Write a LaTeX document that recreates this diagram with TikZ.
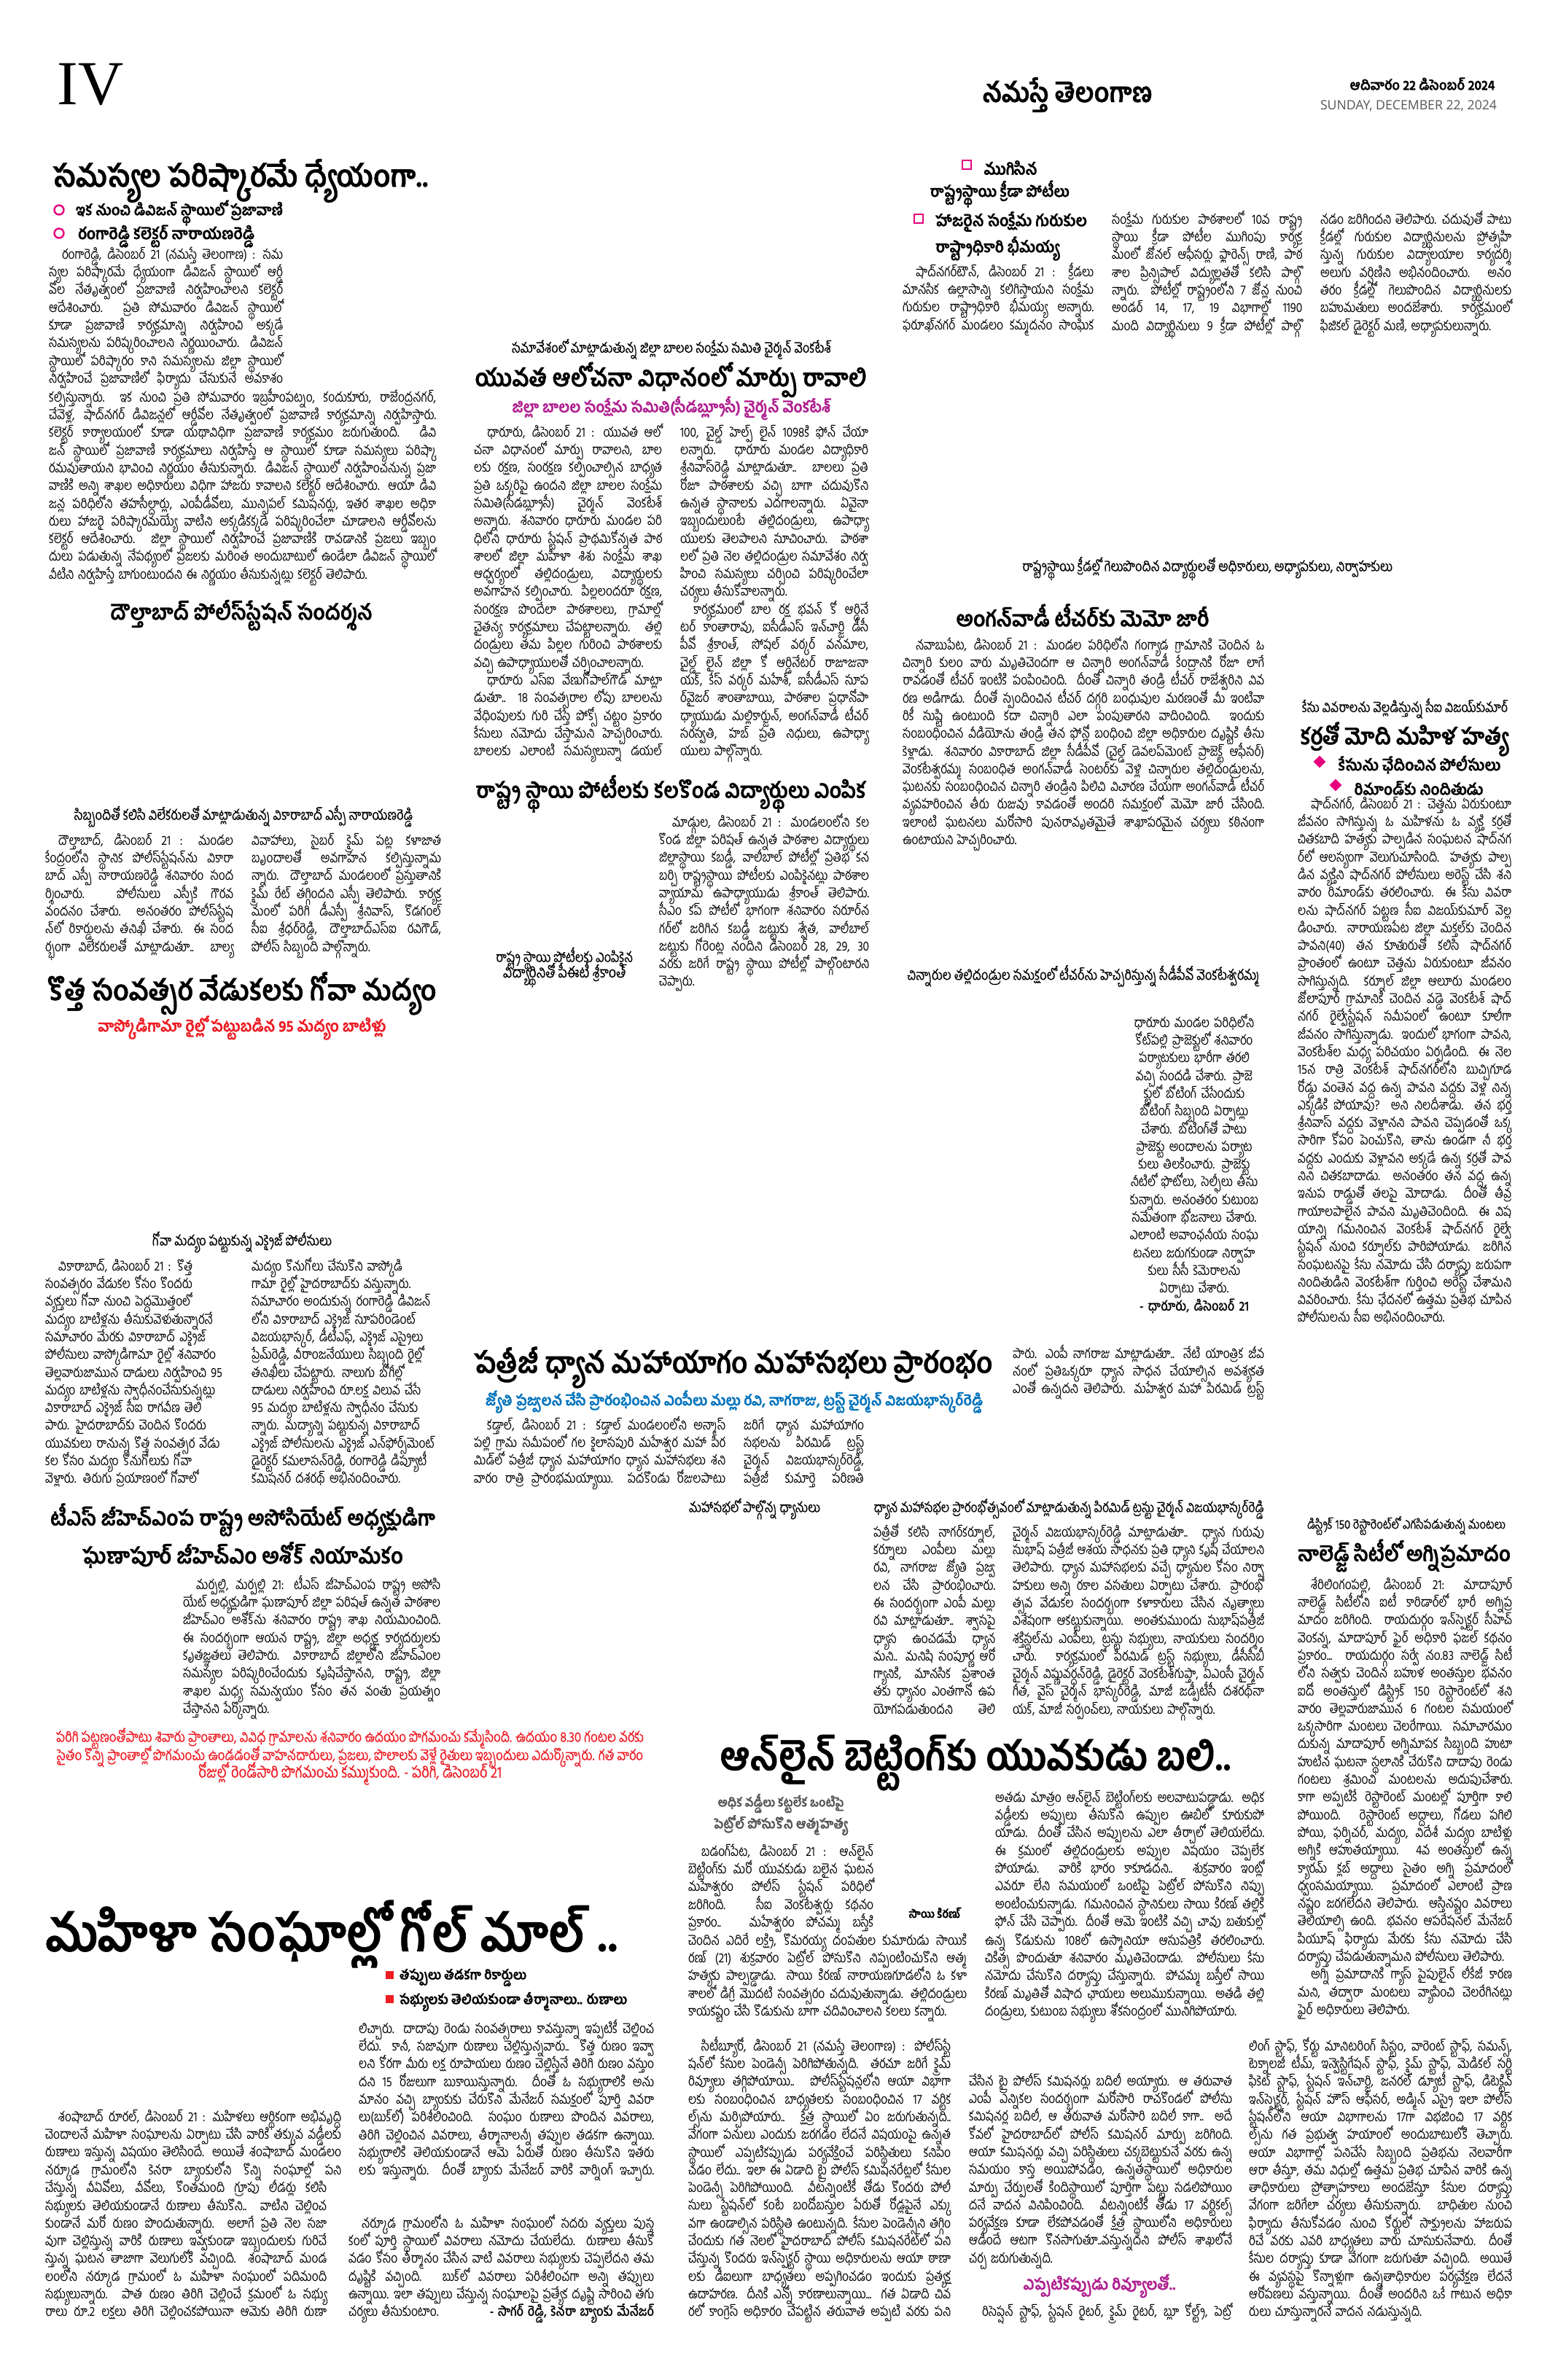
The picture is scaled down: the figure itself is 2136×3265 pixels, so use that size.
\documentclass[tikz,border=0pt]{standalone}
\usepackage{fontspec}
\usepackage{graphicx}
\usetikzlibrary{shapes.geometric}
\setmainfont{Hind Guntur}[Script=Telugu]
\newfontfamily\textcond{Hind Guntur}[Script=Telugu, FakeStretch=0.84]
\newfontfamily\capfont{Hind Guntur}[Script=Telugu, FakeStretch=0.84, FakeBold=0.15]
\newfontfamily\headfont{Hind Guntur}[Script=Telugu, FakeStretch=0.92, BoldFeatures={FakeBold=1}]
\newfontfamily\pagefont{Liberation Serif}
\newfontfamily\dayfont{Open Sans}
\definecolor{pinkmark}{HTML}{E6007E}
\definecolor{purplehead}{HTML}{B0208F}
\definecolor{bluehead}{HTML}{0072BC}
\definecolor{redhead}{HTML}{ED1C24}
\definecolor{grayhead}{HTML}{555555}
\newcommand{\bodysize}{\textcond\fontsize{18.5}{24.3}\selectfont\lineskiplimit=-100pt\lineskip=0pt\spaceskip=.3em plus 6em minus .28em\tolerance=10000\hbadness=10000\hfuzz=40pt\linepenalty=9000}
\newcommand{\brk}{\linebreak}
\newcommand{\ind}{\hspace*{18pt}}
\newcommand{\fitw}[2]{\resizebox{#1pt}{!}{#2}}

\begin{document}
\begin{tikzpicture}[x=1pt, y=-1pt,
    bodytext/.style={text width=#1 pt,
      anchor=north west,
      align=justify,
      inner sep=0pt,
      yshift=17pt,
      font=\bodysize,
      execute at begin node={\rule{0pt}{24pt}}},
    plaintext/.style={bodytext=#1, align=left},
    centertext/.style={bodytext=#1, anchor=north, align=center},
    headline/.style={inner sep=0pt, yshift=-4pt, font=\headfont\bfseries\fontsize{30}{36}\selectfont},
    captionline/.style={inner sep=0pt, font=\capfont\fontsize{20}{24}\selectfont},
    ringmark/.style={circle, draw=pinkmark, fill=white, line width=2.4pt, minimum size=13pt, inner sep=0pt},
    boxmark/.style={rectangle, draw=pinkmark, fill=white, line width=2.2pt, minimum size=12pt, inner sep=0pt},
    diamondmark/.style={diamond, fill=pinkmark, minimum size=17pt, inner sep=0pt},
    redmark/.style={rectangle, fill=redhead, minimum size=11pt, inner sep=0pt}]
  \useasboundingbox (0,0) rectangle (2136,3265);

% PAGE HEADER

  \node [inner sep=0pt, font=\pagefont\fontsize{86}{86}\selectfont] (pageno) at (124,116) {IV};
  \node [headline] (paper) at (1464,126) {\fitw{233}{నమస్తే తెలంగాణ}};
  \node [headline] (dateline) at (1951,111) {\fitw{199}{ఆదివారం 22 డిసెంబర్ 2024}};
  \node [inner sep=0pt, text=grayhead, font=\dayfont\fontsize{20}{24}\selectfont] (dayline) at (1932,145) {\fitw{242}{SUNDAY, DECEMBER 22, 2024}};

% PRAJAVANI

  \node [headline] (samasya) at (330,244) {\fitw{515}{సమస్యల పరిష్కారమే ధ్యేయంగా..}};
  \node [ringmark] (ringa) at (81,288) {};
  \node [headline] (ringatext) at (246,288) {\fitw{284}{ఇక నుంచి డివిజన్ స్థాయిలో ప్రజావాణి}};
  \node [ringmark] (ringb) at (81,320) {};
  \node [headline] (ringbtext) at (228,320) {\fitw{242}{రంగారెడ్డి కలెక్టర్ నారాయణరెడ్డి}};

  \node [bodytext=321] (samasyaa) at (67,348) {\ind రంగారెడ్డి, డిసెంబర్ 21 (నమస్తే తెలంగాణ) : సమ\brk
    స్యల పరిష్కారమే ధ్యేయంగా డివిజన్ స్థాయిలో ఆర్డీ\brk
    వోల నేతృత్వంలో ప్రజావాణి నిర్వహించాలని కలెక్టర్\brk
    ఆదేశించారు. ప్రతి సోమవారం డివిజన్ స్థాయిలో\brk
    కూడా ప్రజావాణి కార్యక్రమాన్ని నిర్వహించి అక్కడే\brk
    సమస్యలను పరిష్కరించాలని నిర్ణయించారు. డివిజన్\brk
    స్థాయిలో పరిష్కారం కాని సమస్యలను జిల్లా స్థాయిలో\brk
    నిర్వహించే ప్రజావాణిలో ఫిర్యాదు చేసుకునే అవకాశం\brk};
  \node [bodytext=531] (samasyab) at (67,544) {కల్పిస్తున్నారు. ఇక నుంచి ప్రతి సోమవారం ఇబ్రహీంపట్నం, కందుకూరు, రాజేంద్రనగర్,\brk
    చేవెళ్ల, షాద్‌నగర్ డివిజన్లలో ఆర్డీవోల నేతృత్వంలో ప్రజావాణి కార్యక్రమాన్ని నిర్వహిస్తారు.\brk
    కలెక్టర్ కార్యాలయంలో కూడా యథావిధిగా ప్రజావాణి కార్యక్రమం జరుగుతుంది. డివి\brk
    జన్ స్థాయిలో ప్రజావాణి కార్యక్రమాలు నిర్వహిస్తే ఆ స్థాయిలో కూడా సమస్యలు పరిష్కా\brk
    రమవుతాయని భావించి నిర్ణయం తీసుకున్నారు. డివిజన్ స్థాయిలో నిర్వహించనున్న ప్రజా\brk
    వాణికి అన్ని శాఖల అధికారులు విధిగా హాజరు కావాలని కలెక్టర్ ఆదేశించారు. ఆయా డివి\brk
    జన్ల పరిధిలోని తహసీల్దార్లు, ఎంపీడీవోలు, మున్సిపల్ కమిషనర్లు, ఇతర శాఖల అధికా\brk
    రులు హాజరై పరిష్కారమయ్యే వాటిని అక్కడికక్కడే పరిష్కరించేలా చూడాలని ఆర్డీవోలను\brk
    కలెక్టర్ ఆదేశించారు. జిల్లా స్థాయిలో నిర్వహించే ప్రజావాణికి రావడానికి ప్రజలు ఇబ్బం\brk
    దులు పడుతున్న నేపథ్యంలో ప్రజలకు మరింత అందుబాటులో ఉండేలా డివిజన్ స్థాయిలో\brk
    వీటిని నిర్వహిస్తే బాగుంటుందని ఈ నిర్ణయం తీసుకున్నట్లు కలెక్టర్ తెలిపారు.};

% DAULATABAD POLICE

  \node [headline] (daulat) at (331,840) {\fitw{359}{దౌల్తాబాద్ పోలీస్‌స్టేషన్ సందర్శన}};
  \node [captionline] (daulatcap) at (334,1120) {\fitw{464}{సిబ్బందితో కలిసి విలేకరులతో మాట్లాడుతున్న వికారాబాద్ ఎస్పీ నారాయణరెడ్డి}};
  \node [bodytext=258] (daulata) at (62,1152) {\ind దౌల్తాబాద్, డిసెంబర్ 21 : మండల\brk
    కేంద్రంలోని స్థానిక పోలీస్‌స్టేషన్‌ను వికారా\brk
    బాద్ ఎస్పీ నారాయణరెడ్డి శనివారం సంద\brk
    ర్శించారు. పోలీసులు ఎస్పీకి గౌరవ\brk
    వందనం చేశారు. అనంతరం పోలీస్‌స్టేష\brk
    న్‌లో రికార్డులను తనిఖీ చేశారు. ఈ సంద\brk
    ర్భంగా విలేకరులతో మాట్లాడుతూ.. బాల్య\brk};
  \node [bodytext=260] (daulatb) at (345,1152) {వివాహాలు, సైబర్ క్రైమ్ పట్ల కళాజాత\brk
    బృందాలతో అవగాహన కల్పిస్తున్నామ\brk
    న్నారు. దౌల్తాబాద్ మండలంలో ప్రస్తుతానికి\brk
    క్రైమ్ రేట్ తగ్గిందని ఎస్పీ తెలిపారు. కార్యక్ర\brk
    మంలో పరిగి డీఎస్పీ శ్రీనివాస్, కొడగంల్\brk
    సీఐ శ్రీధర్‌రెడ్డి, దౌల్తాబాద్‌ఎస్‌ఐ రవిగౌడ్,\brk
    పోలీస్ సిబ్బంది పాల్గొన్నారు.};

% GOA LIQUOR

  \node [headline] (goa) at (332,1359) {\fitw{533}{కొత్త సంవత్సర వేడుకలకు గోవా మద్యం}};
  \node [headline, text=redhead] (goasub) at (332,1406) {\fitw{395}{వాస్కోడిగామా రైల్లో పట్టుబడిన 95 మద్యం బాటిళ్లు}};
  \node [captionline] (goacap) at (332,1704) {\fitw{246}{గోవా మద్యం పట్టుకున్న ఎక్సైజ్ పోలీసులు}};
  \node [plaintext=272] (goaa) at (62,1736) {\ind వికారాబాద్, డిసెంబర్ 21 : కొత్త\\
    సంవత్సరం వేడుకల కోసం కొందరు\\
    వ్యక్తులు గోవా నుంచి పెద్దమొత్తంలో\\
    మద్యం బాటిళ్లను తీసుకువెళుతున్నారనే\\
    సమాచారం మేరకు వికారాబాద్ ఎక్సైజ్\\
    పోలీసులు వాస్కోడిగామా రైల్లో శనివారం\\
    తెల్లవారుజామున దాడులు నిర్వహించి 95\\
    మద్యం బాటిళ్లను స్వాధీనంచేసుకున్నట్లు\\
    వికారాబాద్ ఎక్సైజ్ సీఐ రాగవీణ తెలి\\
    పారు. హైదరాబాద్‌కు చెందిన కొందరు\\
    యువకులు రానున్న కొత్త సంవత్సర వేడు\\
    కల కోసం మద్యం కొనుగోలుకు గోవా\\
    వెళ్లారు. తిరుగు ప్రయాణంలో గోవాలో};
  \node [plaintext=272] (goab) at (345,1736) {మద్యం కొనుగోలు చేసుకొని వాస్కోడి\\
    గామా రైల్లో హైదరాబాద్‌కు వస్తున్నారు.\\
    సమాచారం అందుకున్న రంగారెడ్డి డివిజన్\\
    లోని వికారాబాద్ ఎక్సైజ్ సూపరిండెంట్\\
    విజయభాస్కర్, డీటీఎఫ్, ఎక్సైజ్ ఎస్సైలు\\
    ప్రేమ్‌రెడ్డి, వీరాంజనేయులు సిబ్బంది రైల్లో\\
    తనిఖీలు చేపట్టారు. నాలుగు బోగీల్లో\\
    దాడులు నిర్వహించి రూ.లక్ష విలువ చేసే\\
    95 మద్యం బాటిళ్లను స్వాధీనం చేసుకు\\
    న్నారు. మద్యాన్ని పట్టుకున్న వికారాబాద్\\
    ఎక్సైజ్ పోలీసులను ఎక్సైజ్ ఎన్‌ఫోర్స్‌మెంట్\\
    డైరెక్టర్ కమలాసన్‌రెడ్డి, రంగారెడ్డి డిప్యూటీ\\
    కమిషనర్ దశరథ్ అభినందించారు.};

% GHM ASSOCIATE

  \node [headline] (ghma) at (333,2081) {\fitw{528}{టీఎస్ జీహెచ్‌ఎంప రాష్ట్ర అసోసియేట్ అధ్యక్షుడిగా}};
  \node [headline] (ghmb) at (333,2129) {\fitw{440}{ఘణాపూర్ జీహెచ్‌ఎం అశోక్ నియామకం}};
  \node [bodytext=353] (ghmtext) at (251,2173) {\ind మర్పల్లి, మర్పల్లి 21: టీఎస్ జీహెచ్‌ఎంప రాష్ట్ర అసోసి\brk
    యేట్ అధ్యక్షుడిగా ఘణాపూర్ జిల్లా పరిషత్ ఉన్నత పాఠశాల\brk
    జీహెచ్‌ఎం అశోక్‌ను శనివారం రాష్ట్ర శాఖ నియమించింది.\brk
    ఈ సందర్భంగా ఆయన రాష్ట్ర, జిల్లా అధ్యక్ష కార్యదర్శులకు\brk
    కృతజ్ఞతలు తెలిపారు. వికారాబాద్ జిల్లాలోని జీహెచ్‌ఎంల\brk
    సమస్యల పరిష్కరించేందుకు కృషిచేస్తానని, రాష్ట్ర, జిల్లా\brk
    శాఖల మధ్య సమన్వయం కోసం తన వంతు ప్రయత్నం\brk
    చేస్తానని పేర్కొన్నారు.};

% FOG NOTE

  \node [captionline, text=redhead] (foga) at (480,2385) {\fitw{806}{పరిగి పట్టణంతోపాటు శివారు ప్రాంతాలు, వివిధ గ్రామాలను శనివారం ఉదయం పొగమంచు కమ్మేసింది. ఉదయం 8.30 గంటల వరకు}};
  \node [captionline, text=redhead] (fogb) at (480,2410) {\fitw{804}{సైతం కొన్ని ప్రాంతాల్లో పొగమంచు ఉండడంతో వాహనదారులు, ప్రజలు, పొలాలకు వెళ్లే రైతులు ఇబ్బందులు ఎదుర్కొన్నారు. గత వారం}};
  \node [captionline, text=redhead] (fogc) at (480,2433) {\fitw{416}{రోజుల్లో రెండోసారి పొగమంచు కమ్ముకుంది. - పరిగి, డిసెంబర్ 21}};

% WOMEN GROUPS

  \node [headline] (golmal) at (455,2649) {\fitw{785}{మహిళా సంఘాల్లో గోల్ మాల్ ..}};
  \node [redmark] (reda) at (534,2709) {};
  \node [headline] (redatext) at (635,2709) {\fitw{174}{తప్పులు తడకగా రికార్డులు}};
  \node [redmark] (redb) at (534,2742) {};
  \node [headline] (redbtext) at (704,2742) {\fitw{312}{సభ్యులకు తెలియకుండా తీర్మానాలు.. రుణాలు}};

  \node [bodytext=405] (golmalc) at (492,2782) {లిచ్చారు. దాదాపు రెండు సంవత్సరాలు కావస్తున్నా ఇప్పటికీ చెల్లించ\brk
    లేదు. కానీ, సజావుగా రుణాలు చెల్లిస్తున్నవారు.. కొత్త రుణం ఇవ్వా\brk
    లని కోరగా మీరు లక్ష రూపాయలు రుణం చెల్లిస్తేనే తిరిగి రుణం వస్తుం\brk
    దని 15 రోజులుగా బుకాయిస్తున్నారు. దీంతో ఓ సభ్యురాలికి అను\brk
    మానం వచ్చి బ్యాంకుకు చేరుకొని మేనేజర్ సమక్షంలో పూర్తి వివరా\brk
    లు(బుక్‌లో) పరిశీలించింది. సంఘం రుణాలు పొందిన వివరాలు,\brk
    తిరిగి చెల్లించిన వివరాలు, తీర్మానాలన్నీ తప్పుల తడకగా ఉన్నాయి.\brk
    సభ్యురాలికి తెలియకుండానే ఆమె పేరుతో రుణం తీసుకొని ఇతరు\brk
    లకు ఇస్తున్నారు. దీంతో బ్యాంకు మేనేజర్ వారికి వార్నింగ్ ఇచ్చారు.\brk};
  \node [bodytext=406] (golmala) at (62,2903) {\ind శంషాబాద్ రూరల్, డిసెంబర్ 21 : మహిళలు ఆర్థికంగా అభివృద్ధి\brk
    చెందాలనే మహిళా సంఘాలను ఏర్పాటు చేసి వారికి తక్కువ వడ్డీలకు\brk
    రుణాలు ఇస్తున్న విషయం తెలిసిందే. అయితే శంషాబాద్ మండలం\brk
    నర్కూడ గ్రామంలోని కెనరా బ్యాంకులోని కొన్ని సంఘాల్లో పని\brk};
  \node [bodytext=386] (golmalb) at (62,3000.5) {చేస్తున్న వీఏవోలు, వీవోలు, కొంతమంది గ్రూపు లీడర్లు కలిసి\brk
    సభ్యులకు తెలియకుండానే రుణాలు తీసుకొని.. వాటిని చెల్లించ\brk
    కుండానే మరో రుణం పొందుతున్నారు. అలాగే ప్రతి నెల సజా\brk
    వుగా చెల్లిస్తున్న వారికి రుణాలు ఇవ్వకుండా ఇబ్బందులకు గురిచే\brk
    స్తున్న ఘటన తాజాగా వెలుగులోకి వచ్చింది. శంషాబాద్ మండ\brk
    లంలోని నర్కూడ గ్రామంలో ఓ మహిళా సంఘంలో పదిమంది\brk
    సభ్యులున్నారు. పాత రుణం తిరిగి చెల్లించే క్రమంలో ఓ సభ్యు\brk
    రాలు రూ.2 లక్షలు తిరిగి చెల్లించకపోయినా ఆమెకు తిరిగి రుణా\brk};
  \node [bodytext=419] (golmald) at (478,3049) {\ind నర్కూడ గ్రామంలోని ఓ మహిళా సంఘంలో సదరు వ్యక్తులు పుస్త\brk
    కంలో పూర్తి స్థాయిలో వివరాలు నమోదు చేయలేదు. రుణాలు తీసుకో\brk
    వడం కోసం తీర్మానం చేసిన వాటి వివరాలు సభ్యులకు చెప్పలేదని తమ\brk
    దృష్టికి వచ్చింది. బుక్‌లో వివరాలు పరిశీలించగా అన్ని తప్పులు\brk
    ఉన్నాయి. ఇలా తప్పులు చేస్తున్న సంఘాలపై ప్రత్యేక దృష్టి సారించి తగు\brk
    చర్యలు తీసుకుంటాం. \hfill{\bfseries - సాగర్ రెడ్డి, కెనరా బ్యాంకు మేనేజర్}};

% YOUTH WELFARE

  \node [captionline] (yuvacap) at (921,479) {\fitw{438}{సమావేశంలో మాట్లాడుతున్న జిల్లా బాలల సంక్షేమ సమితి చైర్మన్ వెంకటేశ్}};
  \node [headline] (yuva) at (920,517) {\fitw{537}{యువత ఆలోచనా విధానంలో మార్పు రావాలి}};
  \node [headline, text=purplehead] (yuvasub) at (921,556) {\fitw{437}{జిల్లా బాలల సంక్షేమ సమితి(సీడబ్ల్యూసీ) చైర్మన్ వెంకటేశ్}};
  \node [bodytext=258] (yuvaa) at (650,592) {\ind ధారూరు, డిసెంబర్ 21 : యువత ఆలో\brk
    చనా విధానంలో మార్పు రావాలని, బాల\brk
    లకు రక్షణ, సంరక్షణ కల్పించాల్సిన బాధ్యత\brk
    ప్రతి ఒక్కరిపై ఉందని జిల్లా బాలల సంక్షేమ\brk
    సమితి(సీడబ్ల్యూసీ) చైర్మన్ వెంకటేశ్\brk
    అన్నారు. శనివారం ధారూరు మండల పరి\brk
    ధిలోని ధారూరు స్టేషన్ ప్రాథమికోన్నత పాఠ\brk
    శాలలో జిల్లా మహిళా శిశు సంక్షేమ శాఖ\brk
    ఆధ్వర్యంలో తల్లిదండ్రులు, విద్యార్థులకు\brk
    అవగాహన కల్పించారు. పిల్లలందరూ రక్షణ,\brk
    సంరక్షణ పొందేలా పాఠశాలలు, గ్రామాల్లో\brk
    చైతన్య కార్యక్రమాలు చేపట్టాలన్నారు. తల్లి\brk
    దండ్రులు తమ పిల్లల గురించి పాఠశాలకు\brk
    వచ్చి ఉపాధ్యాయులతో చర్చించాలన్నారు.\par
    \ind ధారూరు ఎస్‌ఐ వేణుగోపాల్‌గౌడ్ మాట్లా\brk
    డుతూ.. 18 సంవత్సరాల లోపు బాలలను\brk
    వేధింపులకు గురి చేస్తే పోక్సో చట్టం ప్రకారం\brk
    కేసులు నమోదు చేస్తామని హెచ్చరించారు.\brk
    బాలలకు ఎలాంటి సమస్యలున్నా డయల్\brk};
  \node [bodytext=258] (yuvab) at (933,592) {100, చైల్డ్ హెల్ప్ లైన్ 1098కి ఫోన్ చేయా\brk
    లన్నారు. ధారూరు మండల విద్యాధికారి\brk
    శ్రీనివాస్‌రెడ్డి మాట్లాడుతూ.. బాలలు ప్రతి\brk
    రోజూ పాఠశాలకు వచ్చి బాగా చదువుకొని\brk
    ఉన్నత స్థానాలకు ఎదగాలన్నారు. ఏవైనా\brk
    ఇబ్బందులుంటే తల్లిదండ్రులు, ఉపాధ్యా\brk
    యులకు తెలపాలని సూచించారు. పాఠశా\brk
    లలో ప్రతి నెల తల్లిదండ్రుల సమావేశం నిర్వ\brk
    హించి సమస్యలు చర్చించి పరిష్కరించేలా\brk
    చర్యలు తీసుకోవాలన్నారు.\par
    \ind కార్యక్రమంలో బాల రక్ష భవన్ కో ఆర్డినే\brk
    టర్ కాంతారావు, ఐసీడీఎస్ ఇన్‌చార్జి డీసీ\brk
    పీవో శ్రీకాంత్, సోషల్ వర్కర్ వనమాల,\brk
    చైల్డ్ లైన్ జిల్లా కో ఆర్డినేటర్ రాజూజునా\brk
    యక్, కేస్ వర్కర్ మహేశ్, ఐసీడీఎస్ సూప\brk
    ర్‌వైజర్ శాంతాబాయి, పాఠశాల ప్రధానోపా\brk
    ధ్యాయుడు మల్లికార్జున్, అంగన్‌వాడీ టీచర్\brk
    సరస్వతి, హబ్ ప్రతి నిధులు, ఉపాధ్యా\brk
    యులు పాల్గొన్నారు.};

% KALAKONDA STUDENTS

  \node [headline] (kala) at (920,1085) {\fitw{535}{రాష్ట్ర స్థాయి పోటీలకు కలకొండ విద్యార్థులు ఎంపిక}};
  \node [captionline] (kalacapa) at (774,1316) {\fitw{188}{రాష్ట్ర స్థాయి పోటీలకు ఎంపికైన}};
  \node [captionline] (kalacapb) at (774,1337) {\fitw{168}{విద్యార్థినితో పీఈటీ శ్రీకాంత్}};
  \node [bodytext=288] (kalatext) at (904,1127) {\ind మాడ్గుల, డిసెంబర్ 21 : మండలంలోని కల\brk
    కొండ జిల్లా పరిషత్ ఉన్నత పాఠశాల విద్యార్థులు\brk
    జిల్లాస్థాయి కబడ్డీ, వాలీబాల్ పోటీల్లో ప్రతిభ కన\brk
    బర్చి రాష్ట్రస్థాయి పోటీలకు ఎంపికైనట్లు పాఠశాల\brk
    వ్యాయామ ఉపాధ్యాయుడు శ్రీకాంత్ తెలిపారు.\brk
    సీఎం కప్ పోటీలో భాగంగా శనివారం సరూర్‌న\brk
    గర్‌లో జరిగిన కబడ్డీ జట్టుకు శ్వేత, వాలీబాల్\brk
    జట్టుకు గోరెంట్ల నందిని డిసెంబర్ 28, 29, 30\brk
    వరకు జరిగే రాష్ట్ర స్థాయి పోటీల్లో పాల్గొంటారని\brk
    చెప్పారు.};

% GURUKUL SPORTS

  \node [boxmark] (boxa) at (1326,226) {};
  \node [headline] (boxatext) at (1386,226) {\fitw{73}{ముగిసిన}};
  \node [headline] (sportsb) at (1371,262) {\fitw{191}{రాష్ట్రస్థాయి క్రీడా పోటీలు}};
  \node [boxmark] (boxb) at (1260,300) {};
  \node [headline] (boxbtext) at (1387,300) {\fitw{208}{హాజరైన సంక్షేమ గురుకుల}};
  \node [headline] (sportsd) at (1368,337) {\fitw{170}{రాష్ట్రాధికారి భీమయ్య}};
  \node [bodytext=262] (sportsa) at (1238,372) {\ind షాద్‌నగర్‌టౌన్, డిసెంబర్ 21 : క్రీడలు\brk
    మానసిక ఉల్లాసాన్ని కలిగిస్తాయని సంక్షేమ\brk
    గురుకుల రాష్ట్రాధికారి భీమయ్య అన్నారు.\brk
    ఫరూఖ్‌నగర్ మండలం కమ్మదనం సాంఘిక\brk};
  \node [bodytext=261] (sportsm) at (1525,300) {సంక్షేమ గురుకుల పాఠశాలలో 10వ రాష్ట్ర\brk
    స్థాయి క్రీడా పోటీల ముగింపు కార్యక్ర\brk
    మంలో జోనల్ ఆఫీసర్లు ఫ్లారెన్స్ రాణి, పాఠ\brk
    శాల ప్రిన్సిపాల్ విద్యుల్లతతో కలిసి పాల్గొ\brk
    న్నారు. పోటీల్లో రాష్ట్రంలోని 7 జోన్ల నుంచి\brk
    అండర్ 14, 17, 19 విభాగాల్లో 1190\brk
    మంది విద్యార్థినులు 9 క్రీడా పోటీల్లో పాల్గొ\brk};
  \node [bodytext=262] (sportsr) at (1811,300) {నడం జరిగిందని తెలిపారు. చదువుతో పాటు\brk
    క్రీడల్లో గురుకుల విద్యార్థినులను ప్రోత్సహి\brk
    స్తున్న గురుకుల విద్యాలయాల కార్యదర్శి\brk
    అలుగు వర్షిణిని అభినందించారు. అనం\brk
    తరం క్రీడల్లో గెలుపొందిన విద్యార్థినులకు\brk
    బహుమతులు అందజేశారు. కార్యక్రమంలో\brk
    ఫిజికల్ డైరెక్టర్ మణి, అధ్యాపకులున్నారు.};
  \node [captionline] (sportscap) at (1656,780) {\fitw{508}{రాష్ట్రస్థాయి క్రీడల్లో గెలుపొందిన విద్యార్థులతో అధికారులు, అధ్యాపకులు, నిర్వాహకులు}};

% ANGANWADI MEMO

  \node [headline] (memo) at (1485,840) {\fitw{347}{అంగన్‌వాడీ టీచర్‌కు మెమో జారీ}};
  \node [bodytext=496] (memotext) at (1238,884) {\ind నవాబుపేట, డిసెంబర్ 21 : మండల పరిధిలోని గంగ్యాడ గ్రామానికి చెందిన ఓ\brk
    చిన్నారి కులం వారు మృతిచెందగా ఆ చిన్నారి అంగన్‌వాడీ కేంద్రానికి రోజూ లాగే\brk
    రావడంతో టీచర్ ఇంటికి పంపించింది. దీంతో చిన్నారి తండ్రి టీచర్ రాజేశ్వరిని వివ\brk
    రణ అడిగాడు. దీంతో స్పందించిన టీచర్ దగ్గరి బంధువుల మరణంతో మీ ఇంటివా\brk
    రికీ సుష్టి ఉంటుంది కదా చిన్నారి ఎలా పంపుతారని వాదించింది. ఇందుకు\brk
    సంబంధించిన వీడియోను తండ్రి తన ఫోన్లో బంధించి జిల్లా అధికారుల దృష్టికి తీసు\brk
    కెళ్లాడు. శనివారం వికారాబాద్ జిల్లా సీడీపీవో (చైల్డ్ డెవలప్‌మెంట్ ప్రాజెక్ట్ ఆఫీసర్)\brk
    వెంకటేశ్వరమ్మ సంబంధిత అంగన్‌వాడీ సెంటర్‌కు వెళ్లి చిన్నారుల తల్లిదండ్రులను,\brk
    ఘటనకు సంబంధించిన చిన్నారి తండ్రిని పిలిచి విచారణ చేయగా అంగన్‌వాడీ టీచర్\brk
    వ్యవహరించిన తీరు రుజువు కావడంతో అందరి సమక్షంలో మెమో జారీ చేసింది.\brk
    ఇలాంటి ఘటనలు మరోసారి పునరావృతమైతే శాఖాపరమైన చర్యలు కఠినంగా\brk
    ఉంటాయని హెచ్చరించారు.};
  \node [captionline] (memocap) at (1486,1339) {\fitw{483}{చిన్నారుల తల్లిదండ్రుల సమక్షంలో టీచర్‌ను హెచ్చరిస్తున్న సీడీపీవో వెంకటేశ్వరమ్మ}};

% KOTPALLY PROJECT

  \node [centertext=215] (kotpally) at (1638,1402) {ధారూరు మండల పరిధిలోని\\
    కోట్‌పల్లి ప్రాజెక్టులో శనివారం\\
    పర్యాటకులు భారీగా తరలి\\
    వచ్చి సందడి చేశారు. ప్రాజె\\
    క్టులో బోటింగ్ చేసేందుకు\\
    బోటింగ్ సిబ్బంది ఏర్పాట్లు\\
    చేశారు. బోటింగ్‌తో పాటు\\
    ప్రాజెక్టు అందాలను పర్యాట\\
    కులు తిలకించారు. ప్రాజెక్టు\\
    నీటిలో ఫొటోలు, సెల్ఫీలు తీసు\\
    కున్నారు. అనంతరం కుటుంబ\\
    సమేతంగా భోజనాలు చేశారు.\\
    ఎలాంటి అవాంఛనీయ సంఘ\\
    టనలు జరుగకుండా నిర్వాహ\\
    కులు సీసీ కెమెరాలను\\
    ఏర్పాటు చేశారు.\\
    {\bfseries - ధారూరు, డిసెంబర్ 21}};

% STICK MURDER

  \node [captionline] (murdercap) at (1927,972) {\fitw{282}{కేసు వివరాలను వెల్లడిస్తున్న సీఐ విజయ్‌కుమార్}};
  \node [headline] (murder) at (1926,1010) {\fitw{285}{కర్రతో మోది మహిళ హత్య}};
  \node [diamondmark] (diamonda) at (1810,1045) {};
  \node [headline] (diamondatext) at (1947,1045) {\fitw{222}{కేసును ఛేదించిన పోలీసులు}};
  \node [diamondmark] (diamondb) at (1832,1077) {};
  \node [headline] (diamondbtext) at (1946,1077) {\fitw{177}{రిమాండ్‌కు నిందితుడు}};
  \node [bodytext=293] (murdertext) at (1780,1102) {\ind షాద్‌నగర్, డిసెంబర్ 21 : చెత్తను ఏరుకుంటూ\brk
    జీవనం సాగిస్తున్న ఓ మహిళను ఓ వ్యక్తి కర్రతో\brk
    చితకబాది హత్యకు పాల్పడిన సంఘటన షాద్‌నగ\brk
    ర్‌లో ఆలస్యంగా వెలుగుచూసింది. హత్యకు పాల్ప\brk
    డిన వ్యక్తిని షాద్‌నగర్ పోలీసులు అరెస్ట్ చేసి శని\brk
    వారం రిమాండ్‌కు తరలించారు. ఈ కేసు వివరా\brk
    లను షాద్‌నగర్ పట్టణ సీఐ విజయ్‌కుమార్ వెల్ల\brk
    డించారు. నారాయణపేట జిల్లా మక్తల్‌కు చెందిన\brk
    పావని(40) తన కూతురుతో కలిసి షాద్‌నగర్\brk
    ప్రాంతంలో ఉంటూ చెత్తను ఏరుకుంటూ జీవనం\brk
    సాగిస్తున్నది. కర్నూల్ జిల్లా ఆలూరు మండలం\brk
    జోలాపూర్ గ్రామానికి చెందిన వడ్డె వెంకటేశ్ షాద్\brk
    నగర్ రైల్వేస్టేషన్ సమీపంలో ఉంటూ కూలీగా\brk
    జీవనం సాగిస్తున్నాడు. ఇందులో భాగంగా పావని,\brk
    వెంకటేశ్‌ల మధ్య పరిచయం ఏర్పడింది. ఈ నెల\brk
    15న రాత్రి వెంకటేశ్ షాద్‌నగర్‌లోని బుచ్చిగూడ\brk
    రోడ్డు వంతెన వద్ద ఉన్న పావని వద్దకు వెళ్లి నిన్న\brk
    ఎక్కడికి పోయావు? అని నిలదీశాడు. తన భర్త\brk
    శ్రీనివాస్ వద్దకు వెళ్లానని పావని చెప్పడంతో ఒక్క\brk
    సారిగా కోపం పెంచుకొని, తాను ఉండగా నీ భర్త\brk
    వద్దకు ఎందుకు వెళ్లావని అక్కడే ఉన్న కర్రతో పావ\brk
    నిని చితకబాదాడు. అనంతరం తన వద్ద ఉన్న\brk
    ఇనుప రాడ్డుతో తలపై మోదాడు. దీంతో తీవ్ర\brk
    గాయాలపాలైన పావని మృతిచెందింది. ఈ విష\brk
    యాన్ని గమనించిన వెంకటేశ్ షాద్‌నగర్ రైల్వే\brk
    స్టేషన్ నుంచి కర్నూల్‌కు పారిపోయాడు. జరిగిన\brk
    సంఘటనపై కేసు నమోదు చేసి దర్యాప్తు జరుపగా\brk
    నిందితుడిని వెంకటేశ్‌గా గుర్తించి అరెస్ట్ చేశామని\brk
    వివరించారు. కేసు ఛేదనలో ఉత్తమ ప్రతిభ చూపిన\brk
    పోలీసులను సీఐ అభినందించారు.};

% DHYANA MAHASABHA

  \node [headline] (dhyana) at (1006,1872) {\fitw{711}{పత్రీజీ ధ్యాన మహాయాగం మహాసభలు ప్రారంభం}};
  \node [headline, text=bluehead] (dhyanasub) at (1007,1919) {\fitw{682}{జ్యోతి ప్రజ్వలన చేసి ప్రారంభించిన ఎంపీలు మల్లు రవి, నాగరాజు, ట్రస్ట్ చైర్మన్ విజయభాస్కర్‌రెడ్డి}};
  \node [bodytext=345] (dhyanaa) at (650,1954) {\ind కడ్తాల్, డిసెంబర్ 21 : కడ్తాల్ మండలంలోని అన్మాస్\brk
    పల్లి గ్రామ సమీపంలో గల కైలాసపురి మహేశ్వర మహా పిర\brk
    మిడ్‌లో పత్రీజీ ధ్యాన మహాయాగం ధ్యాన మహాసభలు శని\brk
    వారం రాత్రి ప్రారంభమయ్యాయి. పదకొండు రోజులపాటు\brk};
  \node [bodytext=165] (dhyanab) at (1020,1954) {జరిగే ధ్యాన మహాయాగం\brk
    సభలను పిరమిడ్ ట్రస్ట్\brk
    చైర్మన్ విజయభాస్కర్‌రెడ్డి,\brk
    పత్రీజీ కుమార్తె పరిణతి\brk};
  \node [bodytext=345] (dhyanac) at (1389,1856) {పారు. ఎంపీ నాగరాజు మాట్లాడుతూ.. నేటి యాంత్రిక జీవ\brk
    నంలో ప్రతిఒక్కరూ ధ్యాన సాధన చేయాల్సిన అవశ్యకత\brk
    ఎంతో ఉన్నదని తెలిపారు. మహేశ్వర మహా పిరమిడ్ ట్రస్ట్\brk};
  \node [captionline] (dhyanacapa) at (1035,2070) {\fitw{180}{మహాసభలో పాల్గొన్న ధ్యానులు}};
  \node [captionline] (dhyanacapb) at (1466,2070) {\fitw{535}{ధ్యాన మహాసభల ప్రారంభోత్సవంలో మాట్లాడుతున్న పిరమిడ్ ట్రస్టు చైర్మన్ విజయభాస్కర్‌రెడ్డి}};
  \node [bodytext=167] (dhyanad) at (1198,2101) {పత్రీతో కలిసి నాగర్‌కర్నూల్,\brk
    కర్నూలు ఎంపీలు మల్లు\brk
    రవి, నాగరాజు జ్యోతి ప్రజ్వ\brk
    లన చేసి ప్రారంభించారు.\brk
    ఈ సందర్భంగా ఎంపీ మల్లు\brk
    రవి మాట్లాడుతూ.. శ్వాసపై\brk
    ధ్యాస ఉంచడమే ధ్యాన\brk
    మని.. మనిషి సంపూర్ణ ఆరో\brk
    గ్యానికి, మానసిక ప్రశాంత\brk
    తకు ధ్యానం ఎంతగానో ఉప\brk
    యోగపడుతుందని తెలి\brk};
  \node [bodytext=345] (dhyanae) at (1389,2101) {చైర్మన్ విజయభాస్కర్‌రెడ్డి మాట్లాడుతూ.. ధ్యాన గురువు\brk
    సుభాష్ పత్రీజీ ఆశయ సాధనకు ప్రతి ధ్యాని కృషి చేయాలని\brk
    తెలిపారు. ధ్యాన మహాసభలకు వచ్చే ధ్యానుల కోసం నిర్వా\brk
    హకులు అన్ని రకాల వసతులు ఏర్పాటు చేశారు. ప్రారంభో\brk
    త్సవ వేడుకల సందర్భంగా కళాకారులు చేసిన నృత్యాలు\brk
    విశేషంగా ఆకట్టుకున్నాయి. అంతకుముందు సుభాష్‌పత్రీజీ\brk
    శక్తిస్థల్‌ను ఎంపీలు, ట్రస్టు సభ్యులు, నాయకులు సందర్శిం\brk
    చారు. కార్యక్రమంలో పిరమిడ్ ట్రస్ట్ సభ్యులు, డీసీసీబీ\brk
    చైర్మన్ విష్ణువర్ధన్‌రెడ్డి, డైరెక్టర్ వెంకటేశ్‌గుప్తా, ఏఎంసీ చైర్మన్\brk
    గీత, వైస్ చైర్మన్ భాస్కర్‌రెడ్డి, మాజీ జడ్పీటీసీ దశరథ్‌నా\brk
    యక్, మాజీ సర్పంచ్‌లు, నాయకులు పాల్గొన్నారు.};

% KNOWLEDGE CITY FIRE

  \node [captionline] (firecap) at (1929,2093) {\fitw{272}{డిస్ట్రిక్ 150 రెస్టారెంట్‌లో ఎగసిపడుతున్న మంటలు}};
  \node [headline] (fire) at (1926,2130) {\fitw{292}{నాలెడ్జ్ సిటీలో అగ్నిప్రమాదం}};
  \node [bodytext=294] (firetext) at (1780,2173) {\ind శేరిలింగంపల్లి, డిసెంబర్ 21: మాదాపూర్\brk
    నాలెడ్జ్ సిటీలోని ఐటీ కారిడార్‌లో భారీ అగ్నిప్ర\brk
    మాదం జరిగింది. రాయదుర్గం ఇన్‌స్పెక్టర్ సీహెచ్\brk
    వెంకన్న, మాదాపూర్ ఫైర్ అధికారి ఫజల్ కథనం\brk
    ప్రకారం... రాయదుర్గం సర్వే నం.83 నాలెడ్జ్ సిటీ\brk
    లోని సత్వకు చెందిన బహుళ అంతస్తుల భవనం\brk
    ఐదో అంతస్తులో డిస్ట్రిక్ 150 రెస్టారెంట్‌లో శని\brk
    వారం తెల్లవారుజామున 6 గంటల సమయంలో\brk
    ఒక్కసారిగా మంటలు చెలరేగాయి. సమాచారమం\brk
    దుకున్న మాదాపూర్ అగ్నిమాపక సిబ్బంది హుటా\brk
    హుటిన ఘటనా స్థలానికి చేరుకొని దాదాపు రెండు\brk
    గంటలు శ్రమించి మంటలను అదుపుచేశారు.\brk
    కాగా అప్పటికే రెస్టారెంట్ మంటల్లో పూర్తిగా కాలి\brk
    పోయింది. రెస్టారెంట్ అద్దాలు, గోడలు పగిలి\brk
    పోయి, ఫర్నిచర్, మద్యం, విదేశీ మద్యం బాటిళ్లు\brk
    అగ్నికి ఆహుతయ్యాయి. 4వ అంతస్తులో ఉన్న\brk
    క్యారమ్ క్లబ్ అద్దాలు సైతం అగ్ని ప్రమాదంలో\brk
    ధ్వంసమయ్యాయి. ప్రమాదంలో ఎలాంటి ప్రాణ\brk
    నష్టం జరగలేదని తెలిపారు. ఆస్తినష్టం వివరాలు\brk
    తెలియాల్సి ఉంది. భవనం ఆపరేషనల్ మేనేజర్\brk
    పియూష్ ఫిర్యాదు మేరకు కేసు నమోదు చేసి\brk
    దర్యాప్తు చేపడుతున్నామని పోలీసులు తెలిపారు.\par
    \ind అగ్ని ప్రమాదానికి గ్యాస్ పైపులైన్ లీకేజీ కారణ\brk
    మని, తద్వారా మంటలు వ్యాపించి చెలరేగినట్లు\brk
    ఫైర్ అధికారులు తెలిపారు.};

% ONLINE BETTING

  \node [headline] (betting) at (1338,2414) {\fitw{701}{ఆన్‌లైన్ బెట్టింగ్‌కు యువకుడు బలి..}};
  \node [headline, text=grayhead] (bettingsuba) at (1071,2470) {\fitw{173}{అధిక వడ్డీలు కట్టలేక ఒంటిపై}};
  \node [headline, text=grayhead] (bettingsubb) at (1071,2500) {\fitw{183}{పెట్రోల్ పోసుకొని ఆత్మహత్య}};
  \node [headline] (bettingcap) at (1282,2620) {\fitw{71}{సాయి కిరణ్}};
  \node [bodytext=254] (bettinga) at (944,2539) {\ind బడంగ్‌పేట, డిసెంబర్ 21 : ఆన్‌లైన్\brk
    బెట్టింగ్‌కు మరో యువకుడు బలైన ఘటన\brk
    మహేశ్వరం పోలీస్ స్టేషన్ పరిధిలో\brk
    జరిగింది. సీఐ వెంకటేశ్వర్లు కథనం\brk
    ప్రకారం.. మహేశ్వరం పోచమ్మ బస్తీకి\brk};
  \node [bodytext=382] (bettingb) at (944,2661) {చెందిన ఎదిరే లక్ష్మి, కొమరయ్య దంపతుల కుమారుడు సాయికి\brk
    రణ్ (21) శుక్రవారం పెట్రోల్ పోసుకొని నిప్పంటించుకొని ఆత్మ\brk
    హత్యకు పాల్పడ్డాడు. సాయి కిరణ్ నారాయణగూడలోని ఓ కళా\brk
    శాలలో డిగ్రీ మొదటి సంవత్సరం చదువుతున్నాడు. తల్లిదండ్రులు\brk
    కాయకష్టం చేసి కొడుకును బాగా చదివించాలని కలలు కన్నారు.};
  \node [bodytext=369] (bettingc) at (1365,2465) {అతడు మాత్రం ఆన్‌లైన్ బెట్టింగ్‌లకు అలవాటుపడ్డాడు. అధిక\brk
    వడ్డీలకు అప్పులు తీసుకొని ఉప్పుల ఊబిలో కూరుకుపో\brk
    యాడు. దీంతో చేసిన అప్పులను ఎలా తీర్చాలో తెలియలేదు.\brk
    ఈ క్రమంలో తల్లిదండ్రులకు అప్పుల విషయం చెప్పలేక\brk
    పోయాడు. వారికి భారం కాకూడదని.. శుక్రవారం ఇంట్లో\brk
    ఎవరూ లేని సమయంలో ఒంటిపై పెట్రోల్ పోసుకొని నిప్పు\brk
    అంటించుకున్నాడు. గమనించిన స్థానికులు సాయి కిరణ్ తల్లికి\brk
    ఫోన్ చేసి చెప్పారు. దీంతో ఆమె ఇంటికి వచ్చి చావు బతుకుల్లో\brk};
  \node [bodytext=383] (bettingd) at (1351,2661) {ఉన్న కొడుకును 108లో ఉస్మానియా ఆసుపత్రికి తరలించారు.\brk
    చికిత్స పొందుతూ శనివారం మృతిచెందాడు. పోలీసులు కేసు\brk
    నమోదు చేసుకొని దర్యాప్తు చేస్తున్నారు. పోచమ్మ బస్తీలో సాయి\brk
    కిరణ్ మృతితో విషాద ఛాయలు అలుముకున్నాయి. అతడి తల్లి\brk
    దండ్రులు, కుటుంబ సభ్యులు శోకసంద్రంలో మునిగిపోయారు.};

% PENDING CASES

  \node [bodytext=360] (pendinga) at (944,2806) {\ind సిటీబ్యూరో, డిసెంబర్ 21 (నమస్తే తెలంగాణ) : పోలీస్‌స్టే\brk
    షన్‌లో కేసుల పెండెన్సీ పెరిగిపోతున్నది. తరచూ జరిగే క్రైమ్\brk
    రివ్యూలు తగ్గిపోయాయి.. పోలీస్‌స్టేషన్లలోని ఆయా విభాగా\brk
    లకు సంబంధించిన బాధ్యతలకు సంబంధించిన 17 వర్టిక\brk
    ల్స్‌ను మర్చిపోయారు.. క్షేత్ర స్థాయిలో ఏం జరుగుతున్నది..\brk
    వేగంగా పనులు ఎందుకు జరగడం లేదనే విషయంపై ఉన్నత\brk
    స్థాయిలో ఎప్పటికప్పుడు పర్యవేక్షించే పరిస్థితులు కనిపిం\brk
    చడం లేదు.. ఇలా ఈ ఏడాది ట్రై పోలీస్ కమిషనరేట్లలో కేసుల\brk
    పెండెన్సీ పెరిగిపోయింది. వీటన్నింటికీ తోడు కొందరు పోలీ\brk
    సులు స్టేషన్‌లో కంటే బందోబస్తుల పేరుతో రోడ్లపైనే ఎక్కు\brk
    వగా ఉండాల్సిన పరిస్థితి ఉంటున్నది. కేసుల పెండెన్సీని తగ్గిం\brk
    చేందుకు గత నెలలో హైదరాబాద్ పోలీస్ కమిషనరేట్‌లో పని\brk
    చేస్తున్న కొందరు ఇన్‌స్పెక్టర్ స్థాయి అధికారులను ఆయా ఠాణా\brk
    లకు డీఐలుగా బాధ్యతలు అప్పగించడం ఇందుకు ప్రత్యక్ష\brk
    ఉదాహరణ. దీనికి ఎన్నో కారణాలున్నాయి... గత ఏడాది చివ\brk
    రలో కాంగ్రెస్ అధికారం చేపట్టిన తరువాత అప్పటి వరకు పని\brk};
  \node [bodytext=361] (pendingb) at (1329,2854) {చేసిన ట్రై పోలీస్ కమిషనర్లు బదిలీ అయ్యారు. ఆ తరువాత\brk
    ఎంపీ ఎన్నికల సందర్భంగా మరోసారి రాచకొండలో పోలీసు\brk
    కమిషనర్ల బదిలీ, ఆ తరువాత మరోసారి బదిలీ కాగా.. అదే\brk
    కోవలో హైదరాబాద్‌లో పోలీస్ కమిషనర్ మార్పు జరిగింది.\brk
    ఆయా కమిషనర్లు వచ్చి పరిస్థితులు చక్కబెట్టుకునే వరకు ఉన్న\brk
    సమయం కాస్త అయిపోవడం, ఉన్నతస్థాయిలో అధికారుల\brk
    మార్పు చేర్పులతో కిందిస్థాయిలో పూర్తిగా పట్టు సడలిపోయిం\brk
    దనే వాదన వినిపించింది. వీటన్నింటికీ తోడు 17 వర్టికల్స్\brk
    పర్యవేక్షణ కూడా లేకపోవడంతో క్షేత్ర స్థాయిలోని అధికారులు\brk
    ఆడిందే ఆటగా కొనసాగుతూ..వస్తున్నదని పోలీస్ శాఖలోనే\brk
    చర్చ జరుగుతున్నది.};
  \node [headline, text=purplehead] (pendinghd) at (1508,3132) {\fitw{209}{ఎప్పటికప్పుడు రివ్యూలతో..}};
  \node [bodytext=361] (pendingc) at (1329,3170) {\ind రిసెప్షన్ స్టాఫ్, స్టేషన్ రైటర్, క్రైమ్ రైటర్, బ్లూ కోల్ట్స్, పెట్రో\brk};
  \node [bodytext=361] (pendingd) at (1713,2806) {లింగ్ స్టాఫ్, కోర్టు మానిటరింగ్ సిస్టం, వారెంట్ స్టాఫ్, సమన్స్,\brk
    టెక్నాలజీ టీమ్, ఇన్వెస్టిగేషన్ స్టాఫ్, క్రైమ్ స్టాఫ్, మెడికల్ సర్టి\brk
    ఫికెట్ స్టాఫ్, స్టేషన్ ఇన్‌చార్జి, జనరల్ డ్యూటీ స్టాఫ్, డిటెక్టివ్\brk
    ఇన్‌స్పెక్టర్, స్టేషన్ హౌస్ ఆఫీసర్, అడ్మిన్ ఎస్సై ఇలా పోలీస్\brk
    స్టేషన్‌లోని ఆయా విభాగాలను 17గా విభజించి 17 వర్టిక\brk
    ల్స్‌ను గత ప్రభుత్వ హయాంలో అందుబాటులోకి తెచ్చారు.\brk
    ఆయా విభాగాల్లో పనిచేసే సిబ్బంది ప్రతిభను నెలవారీగా\brk
    ఆరా తీస్తూ, తమ విధుల్లో ఉత్తమ ప్రతిభ చూపిన వారికి ఉన్న\brk
    తాధికారులు ప్రోత్సాహకాలు అందజేస్తూ కేసుల దర్యాప్తు\brk
    వేగంగా జరిగేలా చర్యలు తీసుకున్నారు. బాధితుల నుంచి\brk
    ఫిర్యాదు తీసుకోవడం నుంచి కోర్టులో సాక్ష్యులను హాజరుప\brk
    రిచే వరకు ఎవరి బాధ్యతలు వారు చూసుకునేవారు. దీంతో\brk
    కేసుల దర్యాప్తు కూడా వేగంగా జరుగుతూ వచ్చింది. అయితే\brk
    ఈ వ్యవస్థపై కొన్నాళ్లుగా ఉన్నతాధికారుల పర్యవేక్షణ లేదనే\brk
    ఆరోపణలు వస్తున్నాయి. దీంతో అందరిని ఒకే గాటున అధికా\brk
    రులు చూస్తున్నారనే వాదన నడుస్తున్నది.};

\end{tikzpicture}
\end{document}
